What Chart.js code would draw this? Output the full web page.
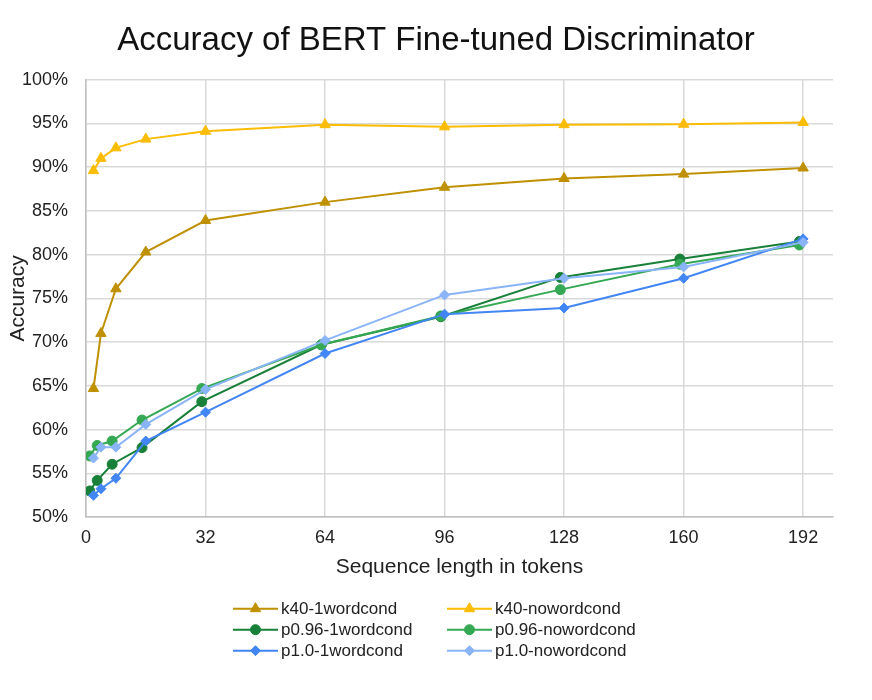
<!DOCTYPE html>
<html lang="en">
<head>
<meta charset="UTF-8" />
<title>Accuracy of BERT Fine-tuned Discriminator</title>
<script src="https://cdn.jsdelivr.net/npm/chart.js"></script>
<style>
  body { margin: 0; background: #fff; }
  #wrap { width: 872px; height: 700px; position: relative; }
</style>
</head>
<body>
<div id="wrap"><canvas id="accChart"></canvas></div>
<script>
// sequence lengths (tokens) – the circle series sit one token to the left
const xTri = [2, 4, 8, 16, 32, 64, 96, 128, 160, 192];
const xCirc = [1, 3, 7, 15, 31, 63, 95, 127, 159, 191];
const xTicks = [0, 32, 64, 96, 128, 160, 192];

const seriesNames = [
  "k40-1wordcond", "k40-nowordcond",
  "p0.96-1wordcond", "p0.96-nowordcond",
  "p1.0-1wordcond", "p1.0-nowordcond"
];

// accuracy in %
const k40One = [64.7, 71.0, 76.1, 80.3, 83.9, 86.0, 87.7, 88.7, 89.2, 89.9];
const k40None = [89.6, 91.0, 92.2, 93.2, 94.1, 94.85, 94.6, 94.85, 94.9, 95.1];
const p96One = [53.0, 54.2, 56.05, 57.95, 63.2, 69.7, 72.9, 77.4, 79.5, 81.5];
const p96None = [57.0, 58.2, 58.7, 61.1, 64.7, 69.7, 73.0, 76.0, 78.9, 81.1];
const p10One = [52.5, 53.25, 54.45, 58.7, 62.0, 68.7, 73.2, 73.9, 77.3, 81.8];
const p10None = [56.75, 58.0, 58.0, 60.6, 64.6, 70.2, 75.4, 77.3, 78.6, 81.4];

const colors = ["#BF9000", "#FBBC04", "#188038", "#34A853", "#4285F4", "#8AB4F8"];
const styles = ["triangle", "triangle", "circle", "circle", "rectRot", "rectRot"];
const radii = { triangle: 6, circle: 5, rectRot: 5 };

const values = [k40One, k40None, p96One, p96None, p10One, p10None];
const FONT = "'Liberation Sans', Arial, sans-serif";

function toPoints(xs, ys) {
  return ys.map((y, i) => ({ x: xs[i], y: y }));
}

const datasets = values.map((ys, i) => ({
  label: seriesNames[i],
  data: toPoints(styles[i] === "circle" ? xCirc : xTri, ys),
  borderColor: colors[i],
  backgroundColor: colors[i],
  borderWidth: 2,
  pointStyle: styles[i],
  pointRadius: radii[styles[i]],
  pointBorderWidth: 1,
  tension: 0,
  fill: false,
  order: values.length - i
}));

// legend laid out as a 2 x 3 grid under the axis title
const gridLegend = {
  id: "gridLegend",
  afterDraw(chart) {
    const ctx = chart.ctx;
    const top = chart.chartArea.bottom + 91.5;
    const left = chart.width / 2 - 203;
    chart.data.datasets.forEach((ds, i) => {
      const col = i % 2;
      const row = Math.floor(i / 2);
      const x0 = left + col * 214;
      const y = top + row * 21;
      ctx.save();
      ctx.strokeStyle = ds.borderColor;
      ctx.fillStyle = ds.backgroundColor;
      ctx.lineWidth = 2;
      ctx.beginPath();
      ctx.moveTo(x0, y);
      ctx.lineTo(x0 + 45, y);
      ctx.stroke();
      ctx.lineWidth = 1;
      Chart.helpers.drawPoint(ctx, {
        pointStyle: ds.pointStyle,
        radius: ds.pointRadius,
        rotation: 0,
        borderWidth: 1
      }, x0 + 22.5, y);
      ctx.fillStyle = "#222";
      ctx.font = "17px " + FONT;
      ctx.textBaseline = "middle";
      ctx.textAlign = "left";
      ctx.fillText(ds.label, x0 + 48, y + 1);
      ctx.restore();
    });
  }
};

new Chart(document.getElementById("accChart"), {
  type: "line",
  data: { datasets: datasets },
  plugins: [gridLegend],
  options: {
    responsive: true,
    maintainAspectRatio: false,
    animation: false,
    layout: { padding: { top: 4, left: 6, right: 6, bottom: 120 } },
    plugins: {
      legend: { display: false },
      tooltip: { enabled: false },
      title: {
        display: true,
        text: "Accuracy of BERT Fine-tuned Discriminator",
        color: "#111",
        font: { family: FONT, size: 33, weight: "normal" },
        padding: { top: 17, bottom: 19 }
      }
    },
    scales: {
      x: {
        type: "linear",
        min: 0,
        max: 200,
        afterBuildTicks: scale => { scale.ticks = xTicks.map(v => ({ value: v })); },
        ticks: {
          color: "#222",
          font: { family: FONT, size: 18 },
          padding: 10,
          maxRotation: 0
        },
        grid: { color: "#d9d9d9", lineWidth: 1.5, drawTicks: false },
        border: { color: "#bfbfbf", width: 1.5 },
        title: {
          display: true,
          text: "Sequence length in tokens",
          color: "#222",
          font: { family: FONT, size: 21 },
          padding: { top: -4, bottom: 0 }
        }
      },
      y: {
        min: 50,
        max: 100,
        afterFit: scale => { scale.width = 80; },
        ticks: {
          stepSize: 5,
          color: "#222",
          font: { family: FONT, size: 18 },
          padding: 18,
          callback: v => v + "%"
        },
        grid: { color: "#d9d9d9", lineWidth: 1.5, drawTicks: false },
        border: { color: "#bfbfbf", width: 1.5 },
        title: {
          display: true,
          text: "Accuracy",
          color: "#222",
          font: { family: FONT, size: 21 },
          padding: { top: 0, bottom: 0 }
        }
      },
      // empty strip on the right so the title centres on the whole canvas
      yPad: {
        position: "right",
        min: 0,
        max: 1,
        afterFit: scale => { scale.width = 33; },
        ticks: { display: false },
        grid: { display: false, drawTicks: false },
        border: { display: false }
      }
    }
  }
});
</script>
</body>
</html>
